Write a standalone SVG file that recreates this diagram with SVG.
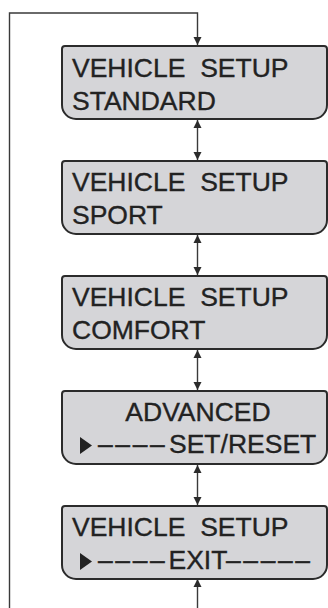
<svg xmlns="http://www.w3.org/2000/svg" xmlns:xlink="http://www.w3.org/1999/xlink" width="328" height="608" viewBox="0 0 328 608">
  <style>
    .panel { fill: #d5d5d8; stroke: #2b2b2b; stroke-width: 2; }
    .lcd { font-family: "Liberation Sans", Arial, sans-serif; font-size: 26.5px; fill: #222; stroke: #222; stroke-width: 0.35; white-space: pre; }
    .dash { letter-spacing: 2.6px; }
    .cursor { fill: #222; }
    .wire { fill: none; stroke: #3a3a3a; stroke-width: 1.4; }
  </style>
  <defs>
    <!-- display panel outline: small top radius, large bottom radius -->
    <path id="panel" d="M62 3 A3 3 0 0 1 65 0 H324 A3 3 0 0 1 327 3 V59 A14 14 0 0 1 313 73 H76 A14 14 0 0 1 62 59 Z"/>
    <marker id="head" viewBox="0 0 8 8" refX="8" refY="4" markerWidth="8" markerHeight="8.5" markerUnits="userSpaceOnUse" orient="auto-start-reverse">
      <path d="M0 0 L8 4 L0 8 Z" fill="#2b2b2b"/>
    </marker>
  </defs>

  <!-- connectors -->
  <g id="connectors">
    <path class="wire" d="M197.5 579 V620 H9.5 V13 H197.5 V45" marker-start="url(#head)" marker-end="url(#head)"/>
    <line class="wire" x1="197.5" y1="120" x2="197.5" y2="160" marker-start="url(#head)" marker-end="url(#head)"/>
    <line class="wire" x1="197.5" y1="235" x2="197.5" y2="275" marker-start="url(#head)" marker-end="url(#head)"/>
    <line class="wire" x1="197.5" y1="350" x2="197.5" y2="390" marker-start="url(#head)" marker-end="url(#head)"/>
    <line class="wire" x1="197.5" y1="465" x2="197.5" y2="505" marker-start="url(#head)" marker-end="url(#head)"/>
  </g>

  <g id="setup-standard" transform="translate(0,46)">
    <use xlink:href="#panel" class="panel"/>
    <text class="lcd" x="72" y="30.5">VEHICLE  SETUP</text>
    <text class="lcd" x="72" y="64">STANDARD</text>
  </g>

  <g id="setup-sport" transform="translate(0,161)">
    <use xlink:href="#panel" class="panel"/>
    <text class="lcd" x="72" y="30.3">VEHICLE  SETUP</text>
    <text class="lcd" x="72" y="62.5">SPORT</text>
  </g>

  <g id="setup-comfort" transform="translate(0,276)">
    <use xlink:href="#panel" class="panel"/>
    <text class="lcd" x="72" y="30.3">VEHICLE  SETUP</text>
    <text class="lcd" x="72" y="62.5">COMFORT</text>
  </g>

  <g id="advanced-reset" transform="translate(0,391)">
    <use xlink:href="#panel" class="panel"/>
    <text class="lcd" x="198" y="30" text-anchor="middle">ADVANCED</text>
    <polygon class="cursor" points="80,46 92,54.5 80,63"/>
    <text class="lcd" y="61.5"><tspan class="dash" x="98">––––</tspan><tspan x="169">SET/RESET</tspan></text>
  </g>

  <g id="setup-exit" transform="translate(0,506)">
    <use xlink:href="#panel" class="panel"/>
    <text class="lcd" x="72" y="30">VEHICLE  SETUP</text>
    <polygon class="cursor" points="80,47 92,55.5 80,64"/>
    <text class="lcd" y="62.5"><tspan class="dash" x="98">––––</tspan><tspan x="168.5">EXIT</tspan><tspan class="dash" x="226">–––––</tspan></text>
  </g>
</svg>
